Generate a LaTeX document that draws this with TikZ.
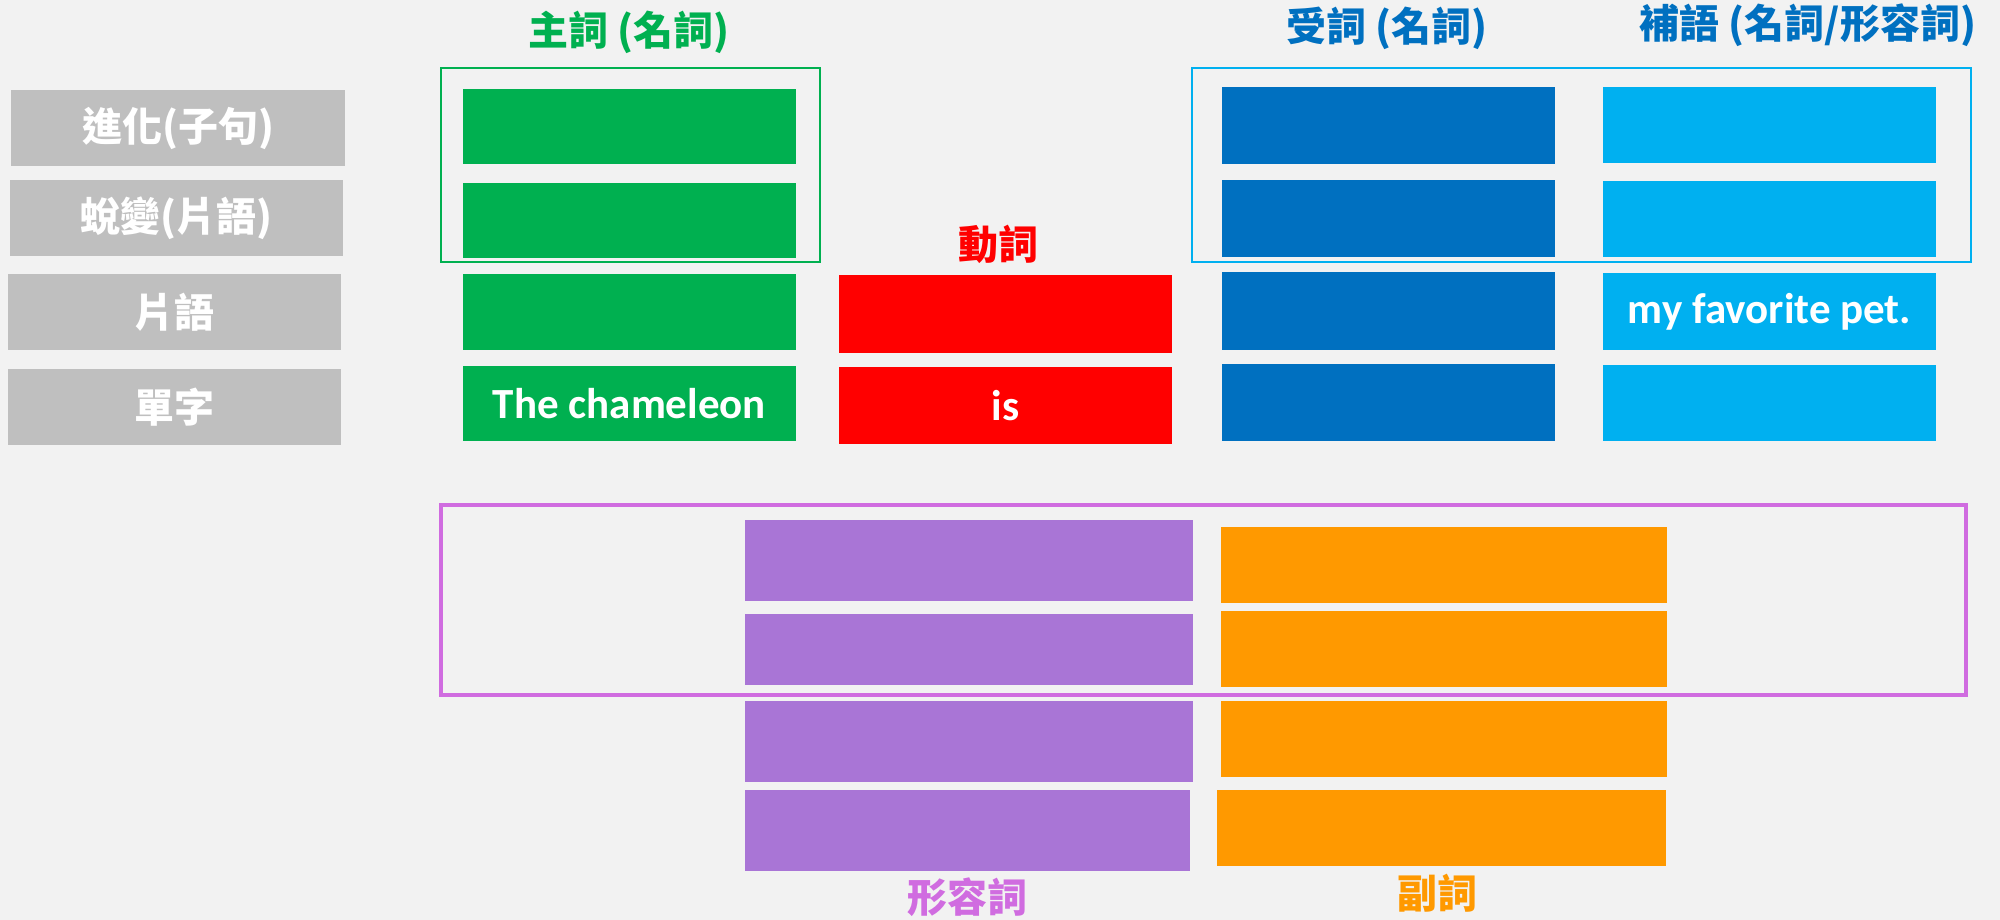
\documentclass[tikz,border=0pt]{standalone}
\usepackage{fontspec}
\setmainfont{Carlito}
\newfontfamily\cjk{Noto Sans CJK TC}
\definecolor{bgc}{HTML}{F2F2F2}
\definecolor{grayc}{HTML}{BFBFBF}
\definecolor{greenc}{HTML}{00B050}
\definecolor{redc}{HTML}{FF0000}
\definecolor{darkbluec}{HTML}{0070C0}
\definecolor{lightbluec}{HTML}{00B0F0}
\definecolor{purplec}{HTML}{A975D6}
\definecolor{orangec}{HTML}{FF9900}
\definecolor{orchidc}{HTML}{D06CE0}
\tikzset{
  cell/.style={anchor=north west, inner sep=0pt, outer sep=0pt, text=white,
    font=\fontsize{43}{50}\selectfont\bfseries},
  graycell/.style={cell, fill=grayc, font=\cjk\fontsize{40}{48}\selectfont\bfseries},
  frame/.style={anchor=north west, inner sep=0pt, outer sep=0pt, fill=none},
  title/.style={inner sep=0pt, font=\cjk\fontsize{40}{48}\selectfont\bfseries},
}
\newcommand{\bx}[7]{%
  \node[#2, minimum width={#5-#3}, minimum height={#6-#4}] (#1) at (#3,#4) {#7};}
\begin{document}
\begin{tikzpicture}[x=1pt,y=-1pt]
\fill[bgc] (0,0) rectangle (2000,920);
\useasboundingbox (0,0) rectangle (2000,920);
% row labels
\bx{l1}{graycell}{11}{90}{345}{166}{進化(子句)}
\bx{l2}{graycell}{10}{180}{343}{256}{蛻變(片語)}
\bx{l3}{graycell}{8}{274}{341}{350}{片語}
\bx{l4}{graycell}{8}{369}{341}{445}{單字}
% subject
\bx{gframe}{frame, draw=greenc, line width=1.5pt}{441}{68}{820}{262}{}
\bx{g1}{cell, fill=greenc}{463}{89}{796}{164}{}
\bx{g2}{cell, fill=greenc}{463}{183}{796}{258}{}
\bx{g3}{cell, fill=greenc}{463}{274}{796}{350}{}
\bx{g4}{cell, fill=greenc}{463}{366}{796}{441}{The chameleon}
% verb
\bx{r1}{cell, fill=redc}{839}{275}{1172}{353}{}
\bx{r2}{cell, fill=redc}{839}{367}{1172}{444}{is}
% object / complement
\bx{bframe}{frame, draw=lightbluec, line width=1.5pt}{1192}{68}{1971}{262}{}
\bx{d1}{cell, fill=darkbluec}{1222}{87}{1555}{164}{}
\bx{d2}{cell, fill=darkbluec}{1222}{180}{1555}{257}{}
\bx{d3}{cell, fill=darkbluec}{1222}{272}{1555}{350}{}
\bx{d4}{cell, fill=darkbluec}{1222}{364}{1555}{441}{}
\bx{c1}{cell, fill=lightbluec}{1603}{87}{1936}{163}{}
\bx{c2}{cell, fill=lightbluec}{1603}{181}{1936}{257}{}
\bx{c3}{cell, fill=lightbluec}{1603}{273}{1936}{350}{my favorite pet.}
\bx{c4}{cell, fill=lightbluec}{1603}{365}{1936}{441}{}
% adjective / adverb
\bx{pframe}{frame, draw=orchidc, line width=3.5pt}{441}{505}{1966}{695}{}
\bx{p1}{cell, fill=purplec}{745}{520}{1193}{601}{}
\bx{p2}{cell, fill=purplec}{745}{614}{1193}{685}{}
\bx{p3}{cell, fill=purplec}{745}{701}{1193}{782}{}
\bx{p4}{cell, fill=purplec}{745}{790}{1190}{871}{}
\bx{o1}{cell, fill=orangec}{1221}{527}{1667}{603}{}
\bx{o2}{cell, fill=orangec}{1221}{611}{1667}{687}{}
\bx{o3}{cell, fill=orangec}{1221}{701}{1667}{777}{}
\bx{o4}{cell, fill=orangec}{1217}{790}{1666}{866}{}
% titles
\node[title, text=greenc] (tsub) at (629,32) {主詞 (名詞)};
\node[title, text=darkbluec] (tobj) at (1387,28) {受詞 (名詞)};
\node[title, text=darkbluec] (tcomp) at (1808,25) {補語 (名詞/形容詞)};
\node[title, text=redc] (tverb) at (998,244) {動詞};
\node[title, text=orchidc] (tadj) at (967,897) {形容詞};
\node[title, text=orangec] (tadv) at (1437,893) {副詞};
\end{tikzpicture}
\end{document}
